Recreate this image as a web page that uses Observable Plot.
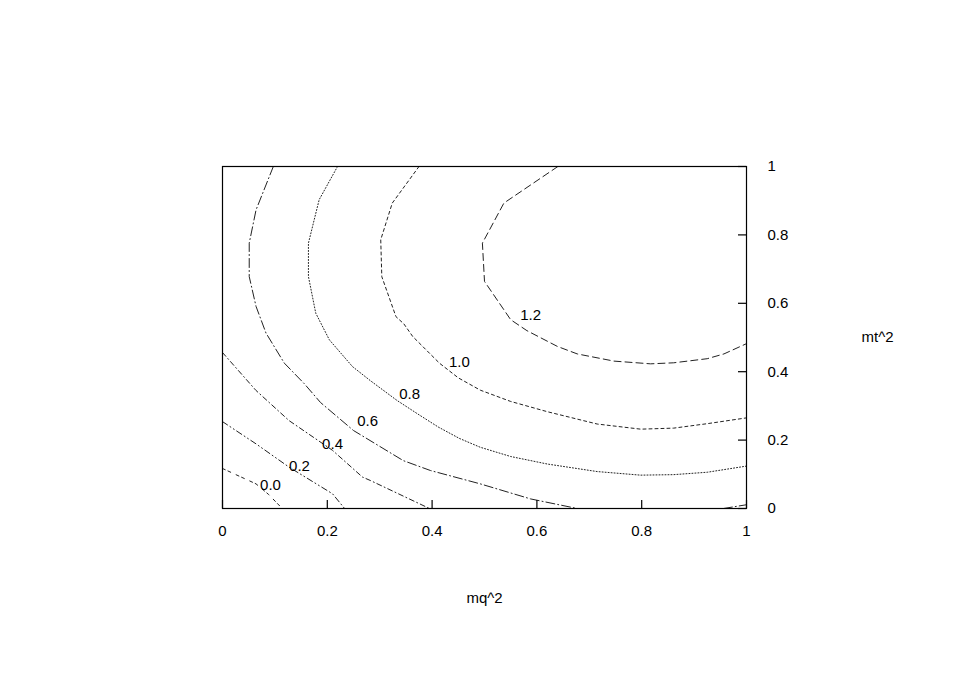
<!DOCTYPE html>
<html><head><meta charset="utf-8">
<script src="https://cdn.jsdelivr.net/npm/d3@7"></script>
<script src="https://cdn.jsdelivr.net/npm/@observablehq/plot@0.6"></script>
<style>body{margin:0;background:#fff} #chart{width:969px;height:677px}</style>
</head><body><div id="chart"></div>
<script>
// axis ticks
const xTicks = [0, 0.2, 0.4, 0.6, 0.8, 1];
const xTickLabels = ["0", "0.2", "0.4", "0.6", "0.8", "1"];
const yTicks = [0, 0.2, 0.4, 0.6, 0.8, 1];
const yTickLabels = ["0", "0.2", "0.4", "0.6", "0.8", "1"];
const xTitle = "mq^2";
const yTitle = "mt^2";

// contour levels as [mq^2, mt^2] points
const c00 = [[0,0.117],[0.064,0.072],[0.088,0.041],[0.114,0]];
const c02 = [[0,0.254],[0.064,0.189],[0.127,0.121],[0.210,0.043],[0.233,0]];
const c04 = [[0,0.456],[0.064,0.345],[0.127,0.257],[0.210,0.170],[0.267,0.092],[0.282,0.082],[0.395,0]];
const c06a = [[0.097,1.0],[0.064,0.873],[0.051,0.776],[0.051,0.678],[0.064,0.591],[0.083,0.513],[0.118,0.425],[0.156,0.365],[0.187,0.310],[0.250,0.228],[0.345,0.140],[0.397,0.111],[0.492,0.072],[0.588,0.028],[0.677,0]];
const c06b = [[0.956,0],[1.0,0.011]];
const c08 = [[0.2195,1.0],[0.1845,0.903],[0.164,0.776],[0.164,0.678],[0.178,0.571],[0.204,0.493],[0.248,0.415],[0.282,0.374],[0.333,0.316],[0.372,0.277],[0.412,0.238],[0.452,0.205],[0.492,0.179],[0.550,0.152],[0.620,0.130],[0.715,0.108],[0.798,0.0975],[0.861,0.099],[0.925,0.106],[1.0,0.124]];
const c10 = [[0.375,1.0],[0.324,0.893],[0.302,0.786],[0.304,0.678],[0.331,0.561],[0.346,0.540],[0.363,0.503],[0.414,0.425],[0.450,0.382],[0.492,0.346],[0.550,0.313],[0.620,0.283],[0.715,0.247],[0.798,0.232],[0.861,0.235],[0.925,0.248],[1.0,0.265]];
const c12 = [[0.640,1.0],[0.537,0.893],[0.496,0.776],[0.500,0.664],[0.550,0.552],[0.581,0.520],[0.639,0.474],[0.677,0.452],[0.747,0.431],[0.817,0.423],[0.861,0.426],[0.925,0.438],[0.957,0.452],[1.0,0.482]];

// contour label positions
const labelText = ["0.0","0.2","0.4","0.6","0.8","1.0","1.2"];
const labelX = [0.0916,0.147,0.210,0.277,0.357,0.452,0.588];
const labelY = [0.067,0.123,0.187,0.254,0.333,0.427,0.564];
const labels = labelText.map((t,i)=>({t, x:labelX[i], y:labelY[i]}));

const W = 969, H = 677, mL = 222, mR = 223, mT = 166, mB = 169;
const plotW = W - mL - mR, plotH = H - mT - mB;
const tickLen = 8;
const lineColor = "#222";

const contour = (pts, dash) => Plot.line(pts, {x: d=>d[0], y: d=>d[1], stroke: lineColor, strokeWidth: 1, strokeDasharray: dash, clip: true});

const chart = Plot.plot({
  width: W, height: H,
  marginLeft: mL, marginRight: mR, marginTop: mT, marginBottom: mB,
  style: {fontFamily: "'Liberation Sans', Arial, Helvetica, sans-serif", fontSize: "15px", color: "black", background: "white"},
  x: {domain: [0, 1]},
  y: {domain: [0, 1]},
  marks: [
    contour(c00, "3,3,3,6"),
    contour(c02, "6,3,1,3,1,3"),
    contour(c04, "5,3,1,3"),
    contour(c06a, "9,3,1,3"),
    contour(c06b, "9,3,1,3"),
    contour(c08, "1,2"),
    contour(c10, "3,3"),
    contour(c12, "7,4"),
    Plot.text(labels, {x: "x", y: "y", text: "t", fill: "black", fontSize: 15}),
    Plot.ruleX(xTicks, {x: d=>d, insetTop: plotH - tickLen, stroke: "black", strokeWidth: 1.2}),
    Plot.ruleY(yTicks, {y: d=>d, insetLeft: plotW - tickLen, stroke: "black", strokeWidth: 1.2}),
    Plot.axisX({anchor: "bottom", ticks: xTicks, tickFormat: d => xTickLabels[xTicks.indexOf(d)], tickSize: 0, tickPadding: 17, label: null, fontSize: 15}),
    Plot.axisY({anchor: "right", ticks: yTicks, tickFormat: d => yTickLabels[yTicks.indexOf(d)], tickSize: 0, tickPadding: 21, label: null, fontSize: 15}),
    Plot.text([xTitle], {frameAnchor: "bottom", text: d=>d, dy: 90, fontSize: 15, fill: "black", textAnchor: "middle", lineAnchor: "middle"}),
    Plot.text([yTitle], {frameAnchor: "right", text: d=>d, dx: 131, fontSize: 15, fill: "black", textAnchor: "middle", lineAnchor: "middle"}),
    Plot.frame({stroke: "black", strokeWidth: 1.2})
  ]
});
document.getElementById("chart").appendChild(chart);
</script></body></html>
